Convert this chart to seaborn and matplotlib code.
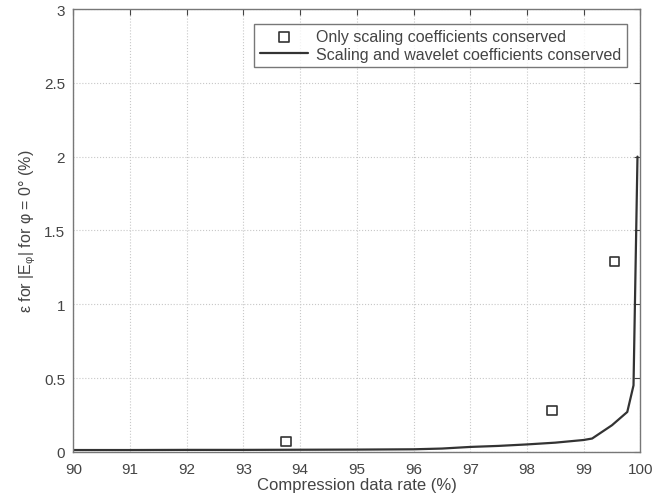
import pandas as pd
import matplotlib
matplotlib.use('Agg')
import matplotlib.pyplot as plt
import seaborn as sns

# Values
rate_scaling = [93.75, 98.44, 99.55]
err_scaling = [0.07, 0.28, 1.29]

rate_full = [90, 91, 92, 93, 94, 95, 96, 96.5, 97, 97.5, 98, 98.5, 99, 99.15,
             99.5, 99.77, 99.88, 99.95]
err_full = [0.012, 0.012, 0.013, 0.013, 0.014, 0.015, 0.017, 0.022, 0.033, 0.04,
            0.05, 0.062, 0.08, 0.09, 0.18, 0.27, 0.45, 2.0]

scaling_df = pd.DataFrame({'rate': rate_scaling, 'err': err_scaling})
full_df = pd.DataFrame({'rate': rate_full, 'err': err_full})

sns.set_style('white')
plt.rcParams['font.family'] = ['Liberation Sans', 'DejaVu Sans']
plt.rcParams['mathtext.fontset'] = 'custom'
plt.rcParams['mathtext.rm'] = 'Liberation Sans'
plt.rcParams['mathtext.it'] = 'Liberation Sans'

fig, ax = plt.subplots(figsize=(6.67, 5.02), dpi=100)
fig.subplots_adjust(left=0.11, right=0.96, top=0.98, bottom=0.098)

sns.scatterplot(x='rate', y='err', data=scaling_df, ax=ax, marker='s',
                s=45, facecolor='none', edgecolor='#333333', linewidth=1.2,
                label='Only scaling coefficients conserved', zorder=3)
sns.lineplot(x='rate', y='err', data=full_df, ax=ax, color='#333333',
             linewidth=1.6, label='Scaling and wavelet coefficients conserved')

ax.set_xlim(90, 100)
ax.set_ylim(0, 3)
ax.set_xticks(range(90, 101))
ax.set_yticks([0, 0.5, 1, 1.5, 2, 2.5, 3])
ax.set_yticklabels(['0', '0.5', '1', '1.5', '2', '2.5', '3'])
ax.grid(True, linestyle=':', color='#c8c8c8', linewidth=0.8)
ax.tick_params(direction='in', length=4, top=True, right=True, labelsize=11,
               colors='#444444')
ax.tick_params(axis='x', pad=7)
ax.tick_params(axis='y', pad=6)
for sp in ax.spines.values():
    sp.set_color('#777777')
    sp.set_linewidth(1.0)

ax.set_xlabel('Compression data rate (%)', fontsize=12, color='#444444', labelpad=1)
ax.set_ylabel('ε for |E$_φ$| for φ = 0° (%)', fontsize=11.5, color='#444444', labelpad=4)

leg = ax.legend(loc='upper right', fontsize=11.5, frameon=True, fancybox=False,
                handlelength=3.0, borderpad=0.35, labelspacing=0.15,
                handletextpad=0.5, bbox_to_anchor=(0.99, 0.985))
leg.get_frame().set_edgecolor('#555555')
leg.get_frame().set_linewidth(1.0)
for t in leg.get_texts():
    t.set_color('#444444')

plt.savefig('out.png', dpi=100)
